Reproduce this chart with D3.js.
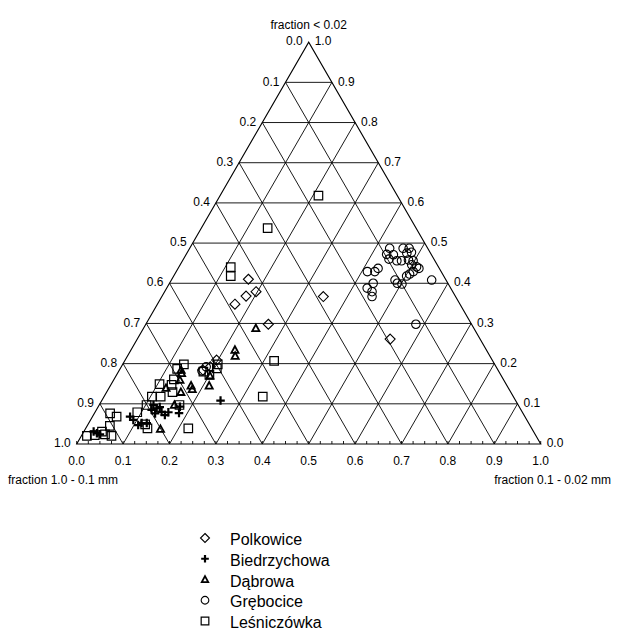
<!DOCTYPE html>
<html>
<head>
<meta charset="utf-8">
<script src="https://cdn.jsdelivr.net/npm/d3@7/dist/d3.min.js"></script>
<style>
  html, body { margin: 0; padding: 0; background: #fff; }
  svg { display: block; }
  text { font-family: Arial, "Liberation Sans", sans-serif; fill: #000; }
</style>
</head>
<body>
<svg id="chart" width="617" height="641"></svg>
<script>
// Grain-size composition: each sample is [fraction 0.1–0.02 mm, fraction < 0.02 mm];
// the 1.0–0.1 mm fraction is the remainder to 1.
const polkowice = [
  [0.165, 0.410], [0.197, 0.379], [0.181, 0.368], [0.167, 0.348], [0.348, 0.367],
  [0.264, 0.298], [0.545, 0.261], [0.197, 0.209], [0.180, 0.184], [0.192, 0.192]
];
const biedrzychowa = [
  [0.256, 0.108], [0.117, 0.097], [0.128, 0.089], [0.119, 0.085], [0.131, 0.076],
  [0.143, 0.080], [0.154, 0.072], [0.158, 0.079], [0.182, 0.077], [0.176, 0.093],
  [0.081, 0.068], [0.092, 0.060], [0.109, 0.047], [0.114, 0.052], [0.125, 0.052],
  [0.021, 0.031], [0.030, 0.027], [0.038, 0.024], [0.133, 0.092]
];
const dabrowa = [
  [0.242, 0.288], [0.224, 0.234], [0.232, 0.219], [0.138, 0.176], [0.133, 0.184],
  [0.143, 0.159], [0.123, 0.139], [0.174, 0.145], [0.181, 0.136], [0.160, 0.129],
  [0.213, 0.145], [0.202, 0.170], [0.162, 0.097], [0.162, 0.037]
];
const grebocice = [
  [0.431, 0.487], [0.460, 0.487], [0.473, 0.487], [0.432, 0.472], [0.447, 0.471],
  [0.474, 0.475], [0.483, 0.477], [0.443, 0.460], [0.462, 0.456], [0.472, 0.456],
  [0.486, 0.458], [0.497, 0.456], [0.499, 0.446], [0.512, 0.441], [0.519, 0.437],
  [0.511, 0.429], [0.506, 0.423], [0.502, 0.418], [0.412, 0.429], [0.431, 0.437],
  [0.428, 0.429], [0.482, 0.408], [0.491, 0.400], [0.502, 0.398], [0.561, 0.408],
  [0.439, 0.400], [0.432, 0.388], [0.447, 0.379], [0.453, 0.367], [0.582, 0.298],
  [0.179, 0.182], [0.183, 0.192]
];
const lesniczowka = [
  [0.212, 0.618], [0.143, 0.537], [0.112, 0.440], [0.123, 0.418], [0.322, 0.207],
  [0.342, 0.118], [0.221, 0.039], [0.132, 0.198], [0.123, 0.187], [0.129, 0.161],
  [0.104, 0.149], [0.131, 0.147], [0.142, 0.129], [0.103, 0.118], [0.122, 0.118],
  [0.102, 0.097], [0.173, 0.097], [0.091, 0.079], [0.123, 0.049], [0.205, 0.198],
  [0.208, 0.188], [0.183, 0.180], [0.200, 0.172], [0.034, 0.076], [0.052, 0.068],
  [0.049, 0.045], [0.012, 0.020], [0.049, 0.024], [0.065, 0.020], [0.028, 0.022],
  [0.133, 0.039], [0.039, 0.031]
];

const series = [
  { name: "Polkowice",    symbol: "diamond",  data: polkowice },
  { name: "Biedrzychowa", symbol: "plus",     data: biedrzychowa },
  { name: "Dąbrowa",      symbol: "triangle", data: dabrowa },
  { name: "Grębocice",    symbol: "circle",   data: grebocice },
  { name: "Leśniczówka",  symbol: "square",   data: lesniczowka }
];

const tickValues = d3.range(0, 11).map(i => i / 10);
const tickLabels = tickValues.map(v => v.toFixed(1));
const minorTicks = d3.range(0, 41).map(i => i / 40);

const titleTop = "fraction < 0.02";
const titleLeft = "fraction 1.0 - 0.1 mm";
const titleRight = "fraction 0.1 - 0.02 mm";

// Triangle geometry
const side = 464;
const height = side * Math.sqrt(3) / 2;
const x0 = 76.7, yBase = 444;

const xScale = d3.scaleLinear().domain([0, 1]).range([x0, x0 + side]);
const yScale = d3.scaleLinear().domain([0, 1]).range([yBase, yBase - height]);

// (b = 0.1–0.02 mm, c = < 0.02 mm) -> screen position
const proj = (b, c) => [xScale(b + c / 2), yScale(c)];

const svg = d3.select("#chart");
const g = svg.append("g");

// Grid lines in the three directions
const grid = g.append("g").attr("stroke", "#000").attr("stroke-width", 0.9).attr("fill", "none");
tickValues.slice(1, 10).forEach(t => {
  // constant fine fraction (horizontal)
  const a1 = proj(0, t), a2 = proj(1 - t, t);
  grid.append("line").attr("x1", a1[0]).attr("y1", a1[1]).attr("x2", a2[0]).attr("y2", a2[1]);
  // constant 0.1–0.02 fraction (parallel to left edge)
  const b1 = proj(t, 0), b2 = proj(t, 1 - t);
  grid.append("line").attr("x1", b1[0]).attr("y1", b1[1]).attr("x2", b2[0]).attr("y2", b2[1]);
  // constant coarse fraction (parallel to right edge)
  const c1 = proj(t, 0), c2 = proj(0, t);
  grid.append("line").attr("x1", c1[0]).attr("y1", c1[1]).attr("x2", c2[0]).attr("y2", c2[1]);
});

// Outline
const corners = [proj(0, 0), proj(1, 0), proj(0, 1)];
g.append("path")
  .attr("d", d3.line()(corners) + "Z")
  .attr("fill", "none").attr("stroke", "#000").attr("stroke-width", 1.1);

// Minor ticks along the base
g.append("g").selectAll("line").data(minorTicks).join("line")
  .attr("x1", d => proj(d, 0)[0]).attr("x2", d => proj(d, 0)[0])
  .attr("y1", yBase).attr("y2", yBase - 3)
  .attr("stroke", "#000").attr("stroke-width", 0.9);

// Tick labels
const fs = 12;
const labels = g.append("g").attr("font-size", fs);
tickValues.forEach((t, i) => {
  // base
  const p = proj(t, 0);
  labels.append("text").attr("x", p[0]).attr("y", yBase + 18)
    .attr("text-anchor", "middle").attr("dominant-baseline", "middle").text(tickLabels[i]);
  // right edge: fine fraction
  const r = proj(1 - t, t);
  if (t < 1) {
    labels.append("text").attr("x", r[0] + 6).attr("y", r[1])
      .attr("text-anchor", "start").attr("dominant-baseline", "middle").text(tickLabels[i]);
  }
  // left edge: coarse fraction
  const l = proj(0, t);
  if (t < 1) {
    labels.append("text").attr("x", l[0] - 6).attr("y", l[1])
      .attr("text-anchor", "end").attr("dominant-baseline", "middle").text(tickLabels[10 - i]);
  }
});
// labels at the apex
const apex = proj(0, 1);
labels.append("text").attr("x", apex[0] - 6).attr("y", apex[1])
  .attr("text-anchor", "end").attr("dominant-baseline", "middle").text(tickLabels[0]);
labels.append("text").attr("x", apex[0] + 6).attr("y", apex[1])
  .attr("text-anchor", "start").attr("dominant-baseline", "middle").text(tickLabels[10]);

// Axis titles
labels.append("text").attr("x", apex[0]).attr("y", 26)
  .attr("text-anchor", "middle").attr("dominant-baseline", "middle").text(titleTop);
labels.append("text").attr("x", 8).attr("y", yBase + 37)
  .attr("text-anchor", "start").attr("dominant-baseline", "middle").text(titleLeft);
labels.append("text").attr("x", 611).attr("y", yBase + 37)
  .attr("text-anchor", "end").attr("dominant-baseline", "middle").text(titleRight);

// Marker shapes
function symbolPath(type, s) {
  switch (type) {
    case "diamond": return `M0,${-s}L${s},0L0,${s}L${-s},0Z`;
    case "square":  return `M${-s * 0.85},${-s * 0.85}H${s * 0.85}V${s * 0.85}H${-s * 0.85}Z`;
    case "circle":  return `M${s * 0.85},0A${s * 0.85},${s * 0.85} 0 1 1 ${-s * 0.85},0A${s * 0.85},${s * 0.85} 0 1 1 ${s * 0.85},0Z`;
    case "triangle": {
      const h = s * 0.75;
      return `M0,${-h}L${h * 0.95},${h * 0.75}L${-h * 0.95},${h * 0.75}Z`;
    }
    case "plus": {
      const a = s * 0.85;
      return `M${-a},0H${a}M0,${-a}V${a}`;
    }
  }
}
const strokeW = { diamond: 1.1, square: 1.2, circle: 1.1, triangle: 1.8, plus: 2.2 };

const marks = g.append("g");
series.forEach(s => {
  marks.append("g").selectAll("path").data(s.data).join("path")
    .attr("transform", d => { const p = proj(d[0], d[1]); return `translate(${p[0]},${p[1]})`; })
    .attr("d", symbolPath(s.symbol, 5))
    .attr("fill", s.symbol === "plus" ? "none" : "#fff")
    .attr("fill-opacity", 0)
    .attr("stroke", "#000")
    .attr("stroke-width", strokeW[s.symbol]);
});

// Legend
const legend = svg.append("g").attr("font-size", 16);
const legY = d3.scalePoint().domain(series.map(s => s.name)).range([541, 624]);
series.forEach(s => {
  const y = legY(s.name);
  legend.append("path")
    .attr("transform", `translate(205,${y - 3})`)
    .attr("d", symbolPath(s.symbol, 4.5))
    .attr("fill", "none").attr("stroke", "#000")
    .attr("stroke-width", strokeW[s.symbol]);
  legend.append("text").attr("x", 230).attr("y", y)
    .attr("dominant-baseline", "middle").text(s.name);
});
</script>
</body>
</html>
